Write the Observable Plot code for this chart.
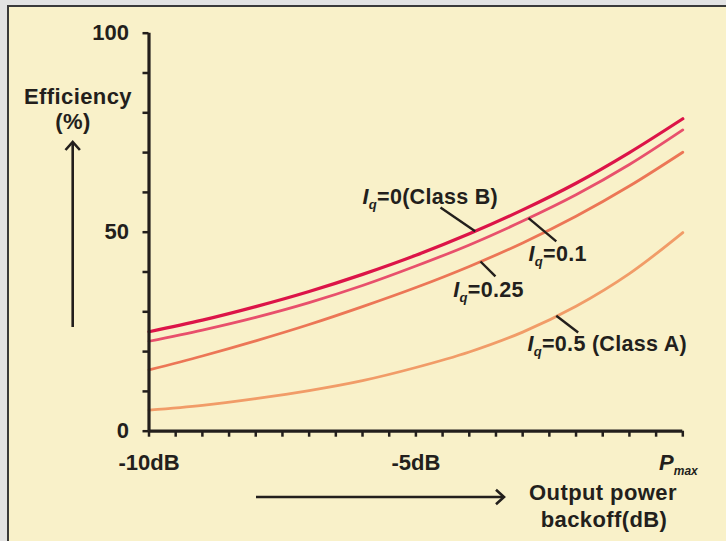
<!DOCTYPE html>
<html><head><meta charset="utf-8">
<script src="https://cdn.jsdelivr.net/npm/d3@7"></script>
<script src="https://cdn.jsdelivr.net/npm/@observablehq/plot@0.6"></script>
<style>
html,body{margin:0;padding:0;width:726px;height:541px;overflow:hidden;background:#e3e3e3;}
#panel{position:absolute;left:7px;top:5px;width:719px;height:536px;background:#f9f1c9;border-left:2px solid #3a3a3a;border-top:2px solid #3a3a3a;box-sizing:border-box;}
#chart{position:absolute;left:0;top:0;}
#overlay{position:absolute;left:0;top:0;}
</style></head><body>
<div id="panel"></div>
<div id="chart"></div>
<svg id="overlay" width="726" height="541" font-family="'Liberation Sans',Arial,sans-serif" font-weight="bold" font-size="22" letter-spacing="0.4" fill="#231f1c">
  <text x="78" y="104" text-anchor="middle">Efficiency</text>
  <text x="73" y="129" text-anchor="middle">(%)</text>
  <text x="603" y="500" text-anchor="middle">Output power</text>
  <text x="604" y="527" text-anchor="middle">backoff(dB)</text>
  <g stroke="#231f1c" stroke-width="2.6" fill="none">
    <line x1="72.7" y1="327" x2="72.7" y2="142"/>
    <polyline points="65.5,150 72.7,142 79.9,150"/>
    <line x1="256" y1="497" x2="504" y2="497"/>
    <polyline points="496,489.8 504,497 496,504.2"/>
  </g>
</svg>
<script>
// ---- data ----
const dB = [-10, -9, -8, -7, -6, -5, -4, -3, -2, -1, 0];
const classB = [25.0, 27.9, 31.3, 35.1, 39.4, 44.2, 49.6, 55.6, 62.3, 70.0, 78.5];
const iq01   = [22.6, 25.4, 28.6, 32.3, 36.6, 41.5, 46.8, 52.8, 59.4, 67.0, 75.7];
const iq025  = [15.4, 18.9, 22.7, 26.8, 31.3, 36.1, 41.4, 47.3, 54.0, 61.6, 70.1];
const classA = [5.3, 6.5, 8.2, 10.2, 12.7, 16.0, 19.9, 24.9, 31.4, 39.6, 49.9];

const seriesNames = ["Iq=0(Class B)", "Iq=0.1", "Iq=0.25", "Iq=0.5 (Class A)"];
const seriesValues = [classB, iq01, iq025, classA];
const seriesColors = ["#dc1448", "#e8506c", "#ec7656", "#f19c68"];
const seriesWidths = [3.2, 2.8, 2.8, 2.8];

const xTicks = d3.range(-10, 0.001, 0.5);
const xTickLabels = new Map([[-10, "-10dB"], [-5, "-5dB"], [0, "Pmax"]]);
const yTicks = d3.range(0, 101, 10);
const yTickLabels = [0, 50, 100];

// annotation: curve point (at), leader end, text start, all in data units
const annoAt = [-3.89, -2.89, -3.79, -2.37];
const annoLeaderX = [-4.54, -2.37, -3.51, -1.96];
const annoLeaderY = [56.2, 47.7, 38.9, 24.8];
const annoTextX = [-6.0, -2.89, -4.30, -2.91];
const annoTextY = [58.8, 44.6, 35.5, 22.0];

const ink = "#231f1c";
const font = "'Liberation Sans',Arial,sans-serif";

function valueAt(values, x) {
  const i = Math.max(0, Math.min(dB.length - 2, Math.floor(x - dB[0])));
  const t = (x - dB[i]) / (dB[i + 1] - dB[i]);
  return values[i] + t * (values[i + 1] - values[i]);
}

const lineMarks = seriesValues.map((vals, k) =>
  Plot.line(dB.map((x, i) => ({x, y: vals[i]})), {
    x: "x", y: "y", stroke: seriesColors[k], strokeWidth: seriesWidths[k], curve: "catmull-rom"
  })
);

const annos = seriesNames.map((name, k) => ({
  name,
  x1: annoAt[k], y1: valueAt(seriesValues[k], annoAt[k]),
  x2: annoLeaderX[k], y2: annoLeaderY[k],
  tx: annoTextX[k], ty: annoTextY[k]
}));

const chart = Plot.plot({
  width: 726, height: 541,
  marginLeft: 148.5, marginRight: 43.7, marginTop: 32.7, marginBottom: 110.3,
  style: {fontFamily: font, background: "transparent", overflow: "visible"},
  x: {domain: [-10, 0]},
  y: {domain: [0, 100]},
  marks: [
    ...lineMarks,
    Plot.link(annos, {x1: "x1", y1: "y1", x2: "x2", y2: "y2", stroke: ink, strokeWidth: 2.4}),
    Plot.text(annos, {x: "tx", y: "ty", text: "name", textAnchor: "start", fontSize: 21.5, fontWeight: "bold", fill: ink}),
    Plot.axisY({ticks: yTicks, tickFormat: d => yTickLabels.includes(d) ? String(d) : "", tickSize: 6, tickPadding: 14,
      label: null, color: ink, strokeWidth: 2.5, fontSize: 22, fontWeight: "bold"}),
    Plot.axisX({ticks: xTicks, tickFormat: d => xTickLabels.get(d) ?? "", tickSize: 6, tickPadding: 17,
      label: null, color: ink, strokeWidth: 2.5, fontSize: 22, fontWeight: "bold"}),
    Plot.ruleX([-10], {stroke: ink, strokeWidth: 3.2}),
    Plot.ruleY([0], {stroke: ink, strokeWidth: 3.2})
  ]
});
document.getElementById("chart").appendChild(chart);

// italic / subscript formatting of I_q and P_max
const NS = "http://www.w3.org/2000/svg";
function span(txt, attrs) {
  const s = document.createElementNS(NS, "tspan");
  s.textContent = txt;
  for (const k in attrs) s.setAttribute(k, attrs[k]);
  return s;
}
chart.querySelectorAll("text").forEach(t => {
  const s = t.textContent;
  if (s.startsWith("Iq")) {
    t.textContent = "";
    t.setAttribute("letter-spacing", "0.3");
    t.appendChild(span("I", {"font-style": "italic"}));
    t.appendChild(span("q", {"font-style": "italic", "font-size": "13", dy: "5"}));
    t.appendChild(span(s.slice(2), {dy: "-5"}));
  } else if (s === "Pmax") {
    t.textContent = "";
    t.setAttribute("text-anchor", "end");
    t.appendChild(span("P", {"font-style": "italic", dx: "15"}));
    t.appendChild(span("max", {"font-style": "italic", "font-size": "12", dy: "5"}));
  }
});
</script>
</body></html>
